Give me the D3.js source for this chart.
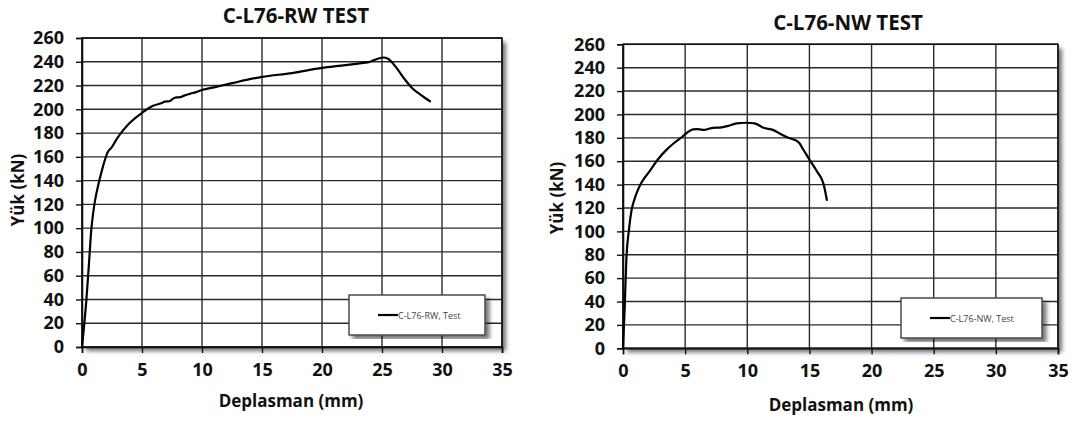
<!DOCTYPE html>
<html>
<head>
<meta charset="utf-8">
<script src="https://cdn.jsdelivr.net/npm/d3@7"></script>
<style>
  html, body { margin: 0; padding: 0; background: #fff; }
  svg { display: block; }
</style>
</head>
<body>
<svg id="chart" width="1083" height="423"></svg>
<script>
// Load–displacement test curves for the two specimens
const rwDisp = [0, 0.36, 0.58, 0.76, 0.92, 1.1, 1.42, 1.75, 2.17, 2.44, 2.86, 3.42, 3.97, 5.0, 5.92, 6.6, 6.9, 7.3, 7.6, 7.86, 8.2, 8.5, 8.97, 9.5, 10.05, 11.0, 12.5, 15.0, 17.5, 20.0, 21.6, 23.0, 23.9, 24.7, 25.1, 25.5, 26.1, 26.8, 27.5, 28.2, 29.0];
const rwLoad = [0, 39, 70, 97, 112, 124, 139, 152, 164.5, 167.5, 174.5, 182.3, 188.5, 197, 203, 205, 206.5, 206.8, 209, 210, 210.2, 211.5, 213, 214.5, 216.4, 218.5, 222, 227.3, 230.5, 234.9, 236.8, 238.5, 239.7, 242.8, 243.6, 242.5, 236.3, 226.5, 218, 212.4, 206.8];

const nwDisp = [0, 0.13, 0.27, 0.48, 0.67, 0.94, 1.2, 1.48, 2.15, 2.82, 3.49, 4.16, 4.7, 5.23, 5.63, 6.0, 6.57, 7.24, 7.8, 8.47, 9.14, 9.94, 10.6, 11.3, 12.1, 12.6, 13.3, 14.1, 14.5, 15.0, 15.6, 16.15, 16.4];
const nwLoad = [0, 33, 76, 101.6, 117, 128, 135.5, 141.6, 151.6, 161.7, 169.7, 176, 180.3, 185, 187.2, 187.4, 186.8, 188.6, 188.8, 190.2, 192.3, 192.9, 192.3, 188.6, 186.6, 183.7, 180, 176.6, 170, 161.4, 151.4, 140, 127];

const xTicks = [0, 5, 10, 15, 20, 25, 30, 35];
const yTicks = [0, 20, 40, 60, 80, 100, 120, 140, 160, 180, 200, 220, 240, 260];
const xLabel = "Deplasman (mm)";
const yLabel = "Yük (kN)";

const panels = [
  { title: "C-L76-RW TEST", legend: "C-L76-RW, Test", disp: rwDisp, load: rwLoad,
    left: 82, right: 502, top: 38, bottom: 347, titleX: 296, titleY: 15,
    xTitleX: 291, xTitleY: 400, yTitleX: 17, yTitleY: 190,
    legendBox: [349, 295, 136, 40] },
  { title: "C-L76-NW TEST", legend: "C-L76-NW, Test", disp: nwDisp, load: nwLoad,
    left: 623, right: 1058, top: 44.3, bottom: 348.3, titleX: 848, titleY: 22,
    xTitleX: 841, xTitleY: 404, yTitleX: 556, yTitleY: 198,
    legendBox: [901, 298, 141, 40] }
];

const svg = d3.select("#chart");
const font = "'Open Sans', 'DejaVu Sans', sans-serif";

const defs = svg.append("defs");
const shadow = defs.append("filter").attr("id", "shadow")
  .attr("x", "-5%").attr("y", "-5%").attr("width", "115%").attr("height", "115%");
shadow.append("feDropShadow")
  .attr("dx", 4).attr("dy", 4).attr("stdDeviation", 2.2)
  .attr("flood-color", "#000").attr("flood-opacity", 0.55);

panels.forEach(p => {
  const x = d3.scaleLinear().domain([0, 35]).range([p.left, p.right]);
  const y = d3.scaleLinear().domain([0, 260]).range([p.bottom, p.top]);
  const g = svg.append("g");

  // plot area with soft drop shadow
  g.append("rect")
    .attr("x", p.left).attr("y", p.top)
    .attr("width", p.right - p.left).attr("height", p.bottom - p.top)
    .attr("fill", "#fff").attr("filter", "url(#shadow)");

  // gridlines
  g.append("g").selectAll("line").data(yTicks).join("line")
    .attr("x1", p.left).attr("x2", p.right)
    .attr("y1", d => y(d)).attr("y2", d => y(d))
    .attr("stroke", "#2a2a2a").attr("stroke-width", 1.4);
  g.append("g").selectAll("line").data(xTicks).join("line")
    .attr("x1", d => x(d)).attr("x2", d => x(d))
    .attr("y1", p.top).attr("y2", p.bottom)
    .attr("stroke", "#2a2a2a").attr("stroke-width", 1.4);

  // axes
  const xAxis = g.append("g").attr("transform", `translate(0,${p.bottom})`)
    .call(d3.axisBottom(x).tickValues(xTicks).tickSize(6).tickPadding(10));
  const yAxis = g.append("g").attr("transform", `translate(${p.left},0)`)
    .call(d3.axisLeft(y).tickValues(yTicks).tickSize(6).tickPadding(12));
  [xAxis, yAxis].forEach(a => {
    a.select(".domain").attr("stroke", "#111").attr("stroke-width", 1.6);
    a.selectAll(".tick line").attr("stroke", "#111").attr("stroke-width", 1.4);
    a.selectAll(".tick text")
      .attr("fill", "#111").style("font-family", font)
      .style("font-weight", "700").style("font-size", "18px");
  });
  // outer frame
  g.append("rect")
    .attr("x", p.left).attr("y", p.top)
    .attr("width", p.right - p.left).attr("height", p.bottom - p.top)
    .attr("fill", "none").attr("stroke", "#111").attr("stroke-width", 1.5);

  // curve
  const pts = p.disp.map((d, i) => [d, p.load[i]]);
  g.append("path").datum(pts)
    .attr("fill", "none").attr("stroke", "#000").attr("stroke-width", 2.2)
    .attr("stroke-linejoin", "round").attr("stroke-linecap", "round")
    .attr("d", d3.line().x(d => x(d[0])).y(d => y(d[1])).curve(d3.curveMonotoneX));

  // titles
  g.append("text").attr("x", p.titleX).attr("y", p.titleY)
    .attr("text-anchor", "middle").attr("dominant-baseline", "central")
    .style("font-family", font).style("font-weight", "700").style("font-size", "20.5px")
    .attr("fill", "#111").text(p.title);
  g.append("text").attr("x", p.xTitleX).attr("y", p.xTitleY)
    .attr("text-anchor", "middle").attr("dominant-baseline", "central")
    .style("font-family", font).style("font-weight", "700").style("font-size", "17px")
    .attr("fill", "#111").text(xLabel);
  g.append("text")
    .attr("transform", `translate(${p.yTitleX},${p.yTitleY}) rotate(-90)`)
    .attr("text-anchor", "middle").attr("dominant-baseline", "central")
    .style("font-family", font).style("font-weight", "700").style("font-size", "17px")
    .attr("fill", "#111").text(yLabel);

  // legend
  const [lx, ly, lw, lh] = p.legendBox;
  const lg = g.append("g");
  lg.append("rect").attr("x", lx).attr("y", ly).attr("width", lw).attr("height", lh)
    .attr("fill", "#fff").attr("stroke", "#555").attr("stroke-width", 1)
    .attr("filter", "url(#shadow)");
  lg.append("rect").attr("x", lx).attr("y", ly).attr("width", lw).attr("height", lh)
    .attr("fill", "none").attr("stroke", "#444").attr("stroke-width", 1);
  lg.append("line")
    .attr("x1", lx + 29).attr("x2", lx + 49)
    .attr("y1", ly + lh / 2).attr("y2", ly + lh / 2)
    .attr("stroke", "#000").attr("stroke-width", 2.2);
  lg.append("text").attr("x", lx + 49).attr("y", ly + lh / 2)
    .attr("dominant-baseline", "central")
    .style("font-family", font).style("font-size", "9px")
    .attr("fill", "#444").text(p.legend);
});
</script>
</body>
</html>
